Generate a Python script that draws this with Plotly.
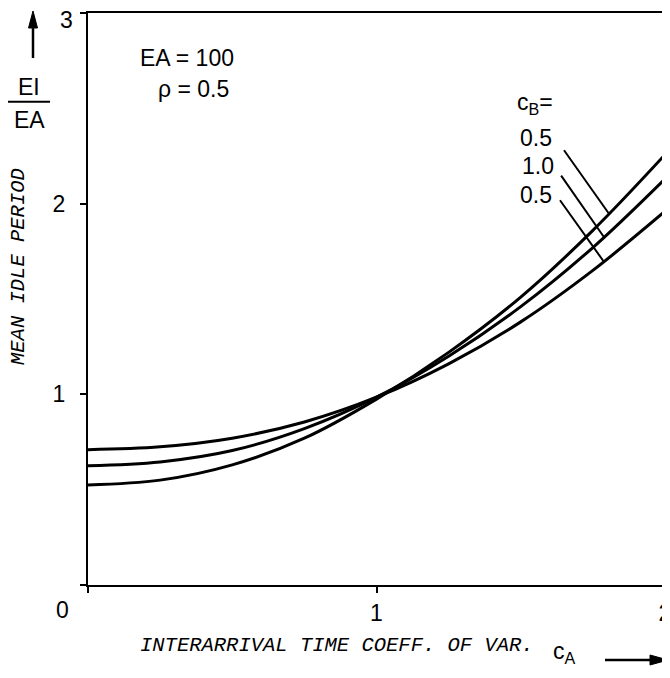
import numpy as np
import plotly.graph_objects as go

# Data
c_a = [0, 0.25, 0.5, 0.75, 1.0, 1.25, 1.5, 1.75, 2.0]
# curve lowest at cA=2 (label "0.5", bottom)
ei_low = [0.71, 0.725, 0.77, 0.855, 0.985, 1.16, 1.38, 1.65, 1.96]
# middle curve (label "1.0")
ei_mid = [0.625, 0.645, 0.705, 0.82, 0.985, 1.20, 1.46, 1.77, 2.13]
# curve highest at cA=2 (label "0.5", top)
ei_high = [0.525, 0.55, 0.63, 0.77, 0.975, 1.22, 1.51, 1.86, 2.257]
curve_labels = ["0.5", "1.0", "0.5"]
x_ticks = [1, 2]
x_ticktext = ["1", "2"]
y_ticks = [1, 2, 3]
y_ticktext = ["1", "2", " "]   # "3" is drawn as an annotation a little lower (as in reference)

num_font = dict(family="Liberation Sans, Arial, sans-serif", size=23, color="black")
mono_font = dict(family="Liberation Mono, Courier New, monospace", size=20.5, color="black")

# window-pixel -> paper helpers (plot area spans x 88..665, y 13..585 in the window)
def px(wx):
    return (wx - 88) / 577.0

def py(wy):
    return (585 - wy) / 572.0

fig = go.Figure()
for ys in (ei_low, ei_mid, ei_high):
    fig.add_trace(go.Scatter(x=c_a, y=ys, mode="lines",
                             line=dict(color="black", width=3, shape="spline", smoothing=1.0),
                             showlegend=False, hoverinfo="skip"))

fig.update_layout(
    width=662, height=670,
    margin=dict(l=80, r=5, t=5, b=93),
    paper_bgcolor="white", plot_bgcolor="white",
    xaxis=dict(range=[0, 2], tickvals=x_ticks, ticktext=x_ticktext,
               automargin=False,
               showgrid=False, zeroline=False, showline=True, mirror=True,
               linecolor="black", linewidth=2, ticks="outside", ticklen=6,
               tickwidth=2, tickcolor="black", tickfont=num_font,
               ticklabelstandoff=0, ticklabeloverflow="allow",
               minor=dict(tickvals=[0], ticks="outside", ticklen=6, tickwidth=2,
                          tickcolor="black")),
    yaxis=dict(range=[0, 3], tickvals=y_ticks, ticktext=y_ticktext,
               automargin=False,
               showgrid=False, zeroline=False, showline=True, mirror=True,
               linecolor="black", linewidth=2, ticks="outside", ticklen=6,
               tickwidth=2, tickcolor="black", tickfont=num_font,
               ticklabelstandoff=10, ticklabeloverflow="allow",
               minor=dict(tickvals=[0], ticks="outside", ticklen=6, tickwidth=2,
                          tickcolor="black")),
)

def text_ann(wx, wy, text, font, **kw):
    d = dict(x=px(wx), y=py(wy), xref="paper", yref="paper", text=text,
             showarrow=False, font=font, xanchor="center", yanchor="middle")
    d.update(kw)
    return d

ann = []
ann.append(text_ann(62, 610, "0", num_font))
ann.append(text_ann(66, 20, "3", num_font, borderpad=0))
ann.append(text_ann(187, 58, "EA = 100", num_font))
ann.append(text_ann(193, 89, "ρ = 0.5", num_font))
ann.append(text_ann(535, 104, "c<sub>B</sub>=", num_font))
label_pos = [(536, 138), (538, 166), (536, 195)]
for lab, (lx, ly) in zip(curve_labels, label_pos):
    ann.append(text_ann(lx, ly, lab, num_font))
ann.append(text_ann(29, 87, "EI", num_font))
ann.append(text_ann(29, 120, "EA", num_font))
ann.append(text_ann(18, 267, "<i>MEAN IDLE PERIOD</i>", mono_font, textangle=-90))
ann.append(text_ann(337, 645, "<i>INTERARRIVAL TIME COEFF. OF VAR.</i>", mono_font))
ann.append(text_ann(564, 652, "c<sub>A</sub>", num_font))
fig.update_layout(annotations=ann)

shapes = []
# fraction bar
shapes.append(dict(type="line", xref="paper", yref="paper",
                   x0=px(8), x1=px(50), y0=py(101.7), y1=py(101.7),
                   line=dict(color="black", width=2)))
# up arrow (shaft + head)
shapes.append(dict(type="line", xref="paper", yref="paper",
                   x0=px(33), x1=px(33), y0=py(58), y1=py(26),
                   line=dict(color="black", width=2.5)))
shapes.append(dict(type="path", xref="paper", yref="paper",
                   path=f"M {px(33)},{py(11)} L {px(28.5)},{py(28)} L {px(37.5)},{py(28)} Z",
                   fillcolor="black", line=dict(color="black", width=1)))
# right arrow (shaft + head)
shapes.append(dict(type="line", xref="paper", yref="paper",
                   x0=px(605), x1=px(652), y0=py(660), y1=py(660),
                   line=dict(color="black", width=2.5)))
shapes.append(dict(type="path", xref="paper", yref="paper",
                   path=f"M {px(668)},{py(660)} L {px(650)},{py(655)} L {px(650)},{py(665)} Z",
                   fillcolor="black", line=dict(color="black", width=1)))
# leader lines for curve labels
leaders = [((1.650, 2.280), (1.804, 1.951)),
           ((1.640, 2.147), (1.787, 1.828)),
           ((1.636, 2.018), (1.787, 1.698))]
for (x0, y0), (x1, y1) in leaders:
    shapes.append(dict(type="line", xref="x", yref="y", x0=x0, y0=y0, x1=x1, y1=y1,
                       line=dict(color="black", width=2)))
fig.update_layout(shapes=shapes)

fig.write_html("out.html")
